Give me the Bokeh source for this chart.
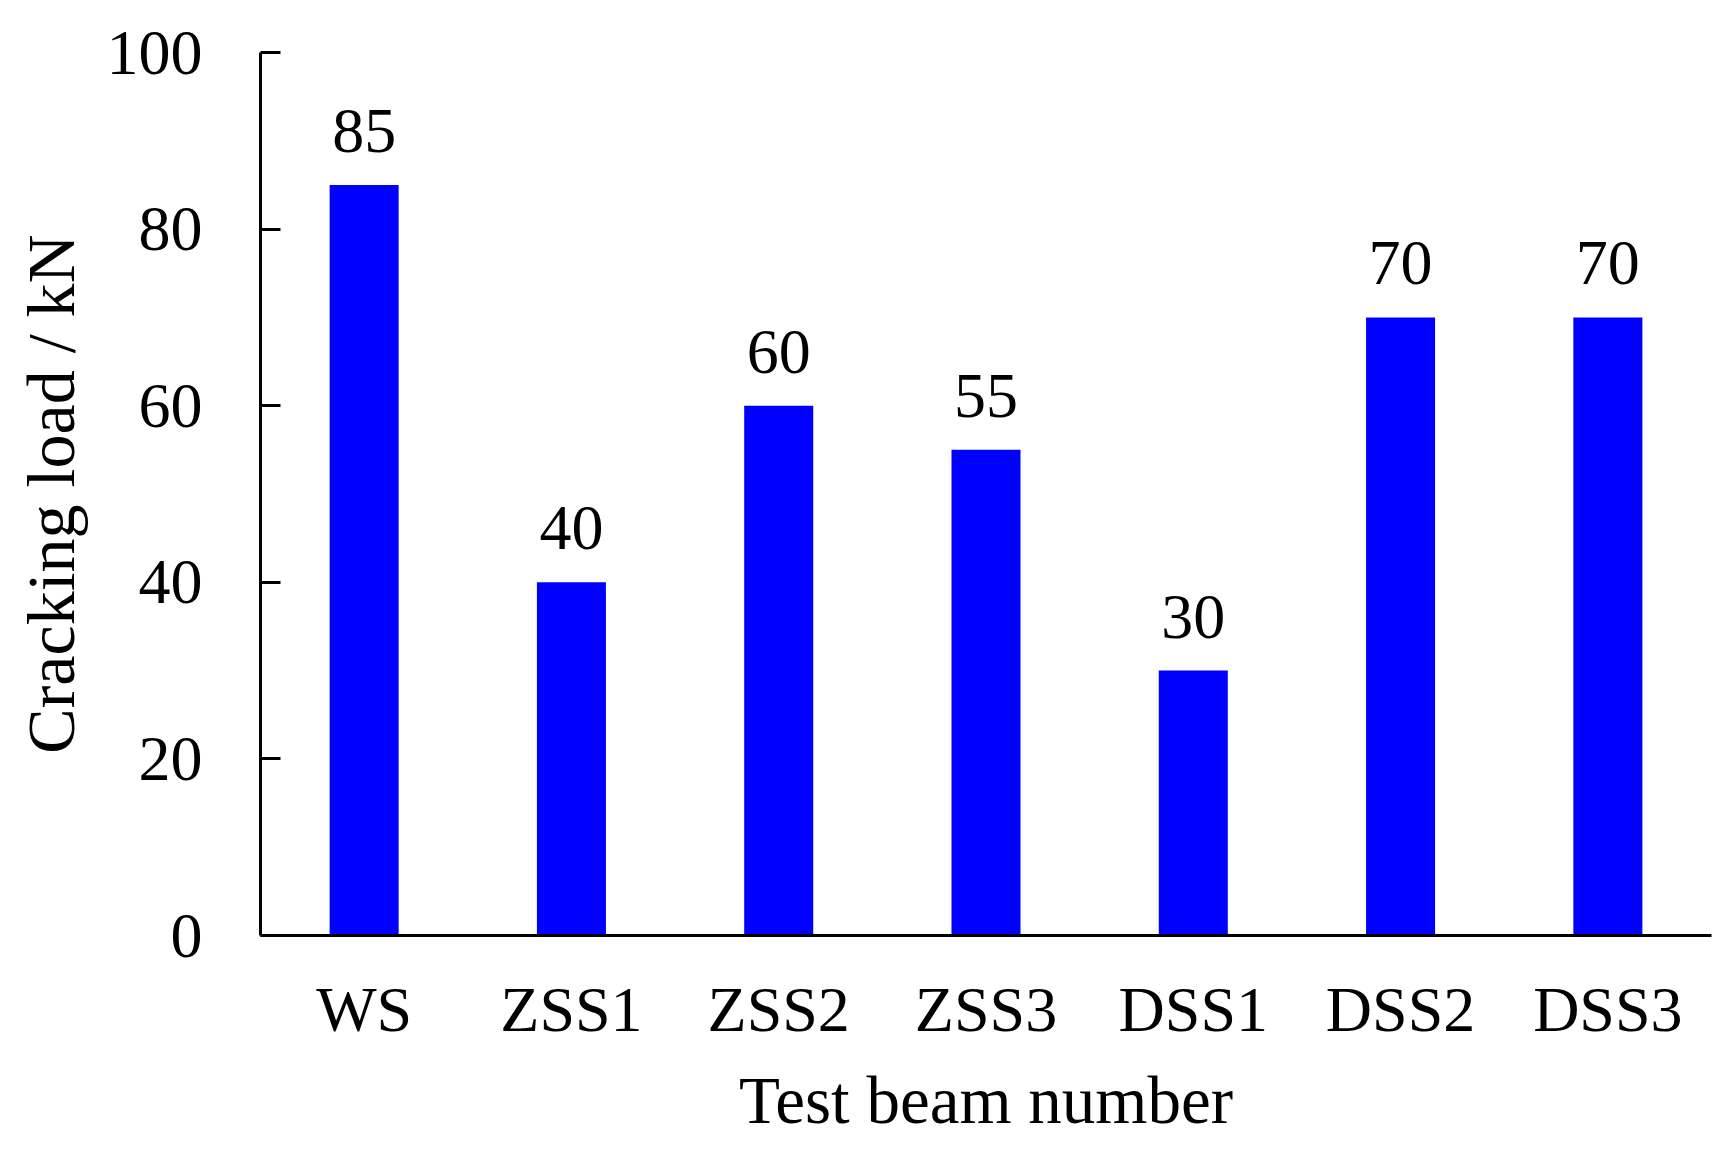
from bokeh.plotting import figure
from bokeh.models import ColumnDataSource, Range1d, FixedTicker
from bokeh.core.properties import value
from bokeh.embed import file_html
from bokeh.resources import INLINE

beams = ["WS", "ZSS1", "ZSS2", "ZSS3", "DSS1", "DSS2", "DSS3"]
cracking_load = [85, 40, 60, 55, 30, 70, 70]
y_ticks = [0, 20, 40, 60, 80, 100]

FONT = "Liberation Serif"

src = ColumnDataSource(dict(x=beams, top=cracking_load,
                            label=[str(v) for v in cracking_load]))

p = figure(x_range=beams, y_range=Range1d(0, 100),
           width=1719, height=1141,
           output_backend="svg", toolbar_location=None,
           min_border_left=260, min_border_right=8,
           min_border_top=52, min_border_bottom=206)

p.vbar(x="x", top="top", width=0.333, source=src,
       fill_color="#0000FF", line_color=None)

p.text(x="x", y="top", text="label", source=src,
       text_font=value(FONT), text_font_size="64px",
       text_align="center", text_baseline="alphabetic",
       y_offset=-54, text_color="black")

p.outline_line_color = None
p.xgrid.grid_line_color = None
p.ygrid.grid_line_color = None
p.background_fill_color = "white"
p.border_fill_color = "white"

# y axis
ya = p.yaxis[0]
ya.ticker = FixedTicker(ticks=y_ticks)
ya.axis_line_width = 3
ya.axis_line_color = "black"
ya.major_tick_in = 20
ya.major_tick_out = 0
ya.major_tick_line_width = 3
ya.major_tick_line_color = "black"
ya.minor_tick_line_color = None
ya.major_label_text_font = FONT
ya.major_label_text_font_size = "64px"
ya.major_label_text_color = "black"
ya.major_label_standoff = 58
ya.axis_label = "Cracking load / kN"
ya.axis_label_text_font = FONT
ya.axis_label_text_font_size = "68px"
ya.axis_label_text_font_style = "normal"
ya.axis_label_text_color = "black"
ya.axis_label_standoff = 15

# x axis
xa = p.xaxis[0]
xa.axis_line_width = 3
xa.axis_line_color = "black"
xa.major_tick_line_color = None
xa.minor_tick_line_color = None
xa.major_label_text_font = FONT
xa.major_label_text_font_size = "64px"
xa.major_label_text_color = "black"
xa.major_label_standoff = 32
xa.axis_label = "Test beam number"
xa.axis_label_text_font = FONT
xa.axis_label_text_font_size = "67px"
xa.axis_label_text_font_style = "normal"
xa.axis_label_text_color = "black"
xa.axis_label_standoff = 15

p.x_range.range_padding = 0

open("out.html", "w").write(file_html(p, INLINE))
